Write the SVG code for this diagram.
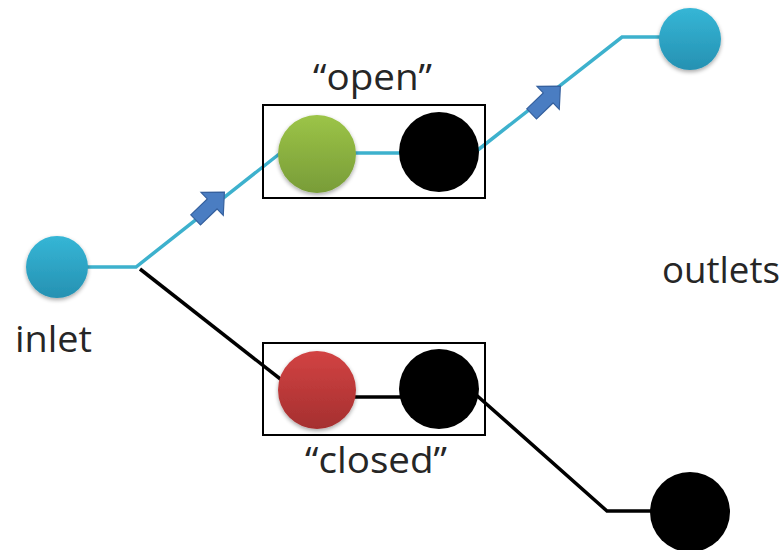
<svg xmlns="http://www.w3.org/2000/svg" width="784" height="550" viewBox="0 0 784 550">
<style>
.lbl{font-family:"Open Sans","Liberation Sans",sans-serif;font-size:36px;fill:#262626}
.blue{fill:none;stroke:#3db1cd;stroke-width:3.5;stroke-linejoin:miter}
.blk{fill:none;stroke:#000;stroke-width:3.5;stroke-linejoin:miter}
.box{fill:none;stroke:#000;stroke-width:2}
.arr{fill:#4a7dc2;stroke:#35609e;stroke-width:1.2}
</style>
<defs>
<linearGradient id="gTeal" x1="0" y1="0" x2="0" y2="1"><stop offset="0" stop-color="#35b6d6"/><stop offset="1" stop-color="#2691b2"/></linearGradient>
<linearGradient id="gGreen" x1="0" y1="0" x2="0" y2="1"><stop offset="0" stop-color="#9cc447"/><stop offset="1" stop-color="#789c38"/></linearGradient>
<linearGradient id="gRed" x1="0" y1="0" x2="0" y2="1"><stop offset="0" stop-color="#d24343"/><stop offset="1" stop-color="#a52f2f"/></linearGradient>
<filter id="sh" x="-20%" y="-20%" width="140%" height="150%"><feGaussianBlur in="SourceAlpha" stdDeviation="2"/><feOffset dy="2"/><feComponentTransfer><feFuncA type="linear" slope="0.35"/></feComponentTransfer><feMerge><feMergeNode/><feMergeNode in="SourceGraphic"/></feMerge></filter>
<path id="arrowShape" d="M-20,-7 L3,-7 L3,-16 L20,0 L3,16 L3,7 L-20,7 Z"/>
</defs>
<g id="connectors">
<polyline class="blue" points="80,267 136,267 283,151"/>
<line class="blue" x1="350" y1="153" x2="405" y2="153"/>
<polyline class="blue" points="474,153 622,37 670,37"/>
<polyline class="blk" points="140,269 288,385"/>
<line class="blk" x1="350" y1="397" x2="405" y2="397"/>
<polyline class="blk" points="474,393 607,511 660,511"/>
<use href="#arrowShape" class="arr" transform="translate(210,206) rotate(-44)"/>
<use href="#arrowShape" class="arr" transform="translate(546,100) rotate(-44)"/>
</g>
<g id="inlet">
<circle cx="57" cy="267" r="31" fill="url(#gTeal)" filter="url(#sh)"/>
<text class="lbl" x="15" y="352" textLength="77" lengthAdjust="spacingAndGlyphs">inlet</text>
</g>
<g id="open">
<rect class="box" x="263" y="105" width="222" height="93"/>
<circle cx="317" cy="154" r="39" fill="url(#gGreen)" filter="url(#sh)"/>
<circle cx="439" cy="152" r="40" fill="#000"/>
<text class="lbl" x="313" y="90" textLength="119" lengthAdjust="spacingAndGlyphs">“open”</text>
</g>
<g id="closed">
<rect class="box" x="263" y="343" width="222" height="92"/>
<circle cx="317" cy="390" r="39" fill="url(#gRed)" filter="url(#sh)"/>
<circle cx="439" cy="389" r="40" fill="#000"/>
<text class="lbl" x="305" y="473" textLength="142" lengthAdjust="spacingAndGlyphs">“closed”</text>
</g>
<g id="outlet-top">
<circle cx="690" cy="39" r="31" fill="url(#gTeal)" filter="url(#sh)"/>
</g>
<g id="outlet-bottom">
<circle cx="690" cy="512" r="40" fill="#000"/>
</g>
<g id="outlets-label">
<text class="lbl" x="662" y="283" textLength="118" lengthAdjust="spacingAndGlyphs">outlets</text>
</g>
</svg>
